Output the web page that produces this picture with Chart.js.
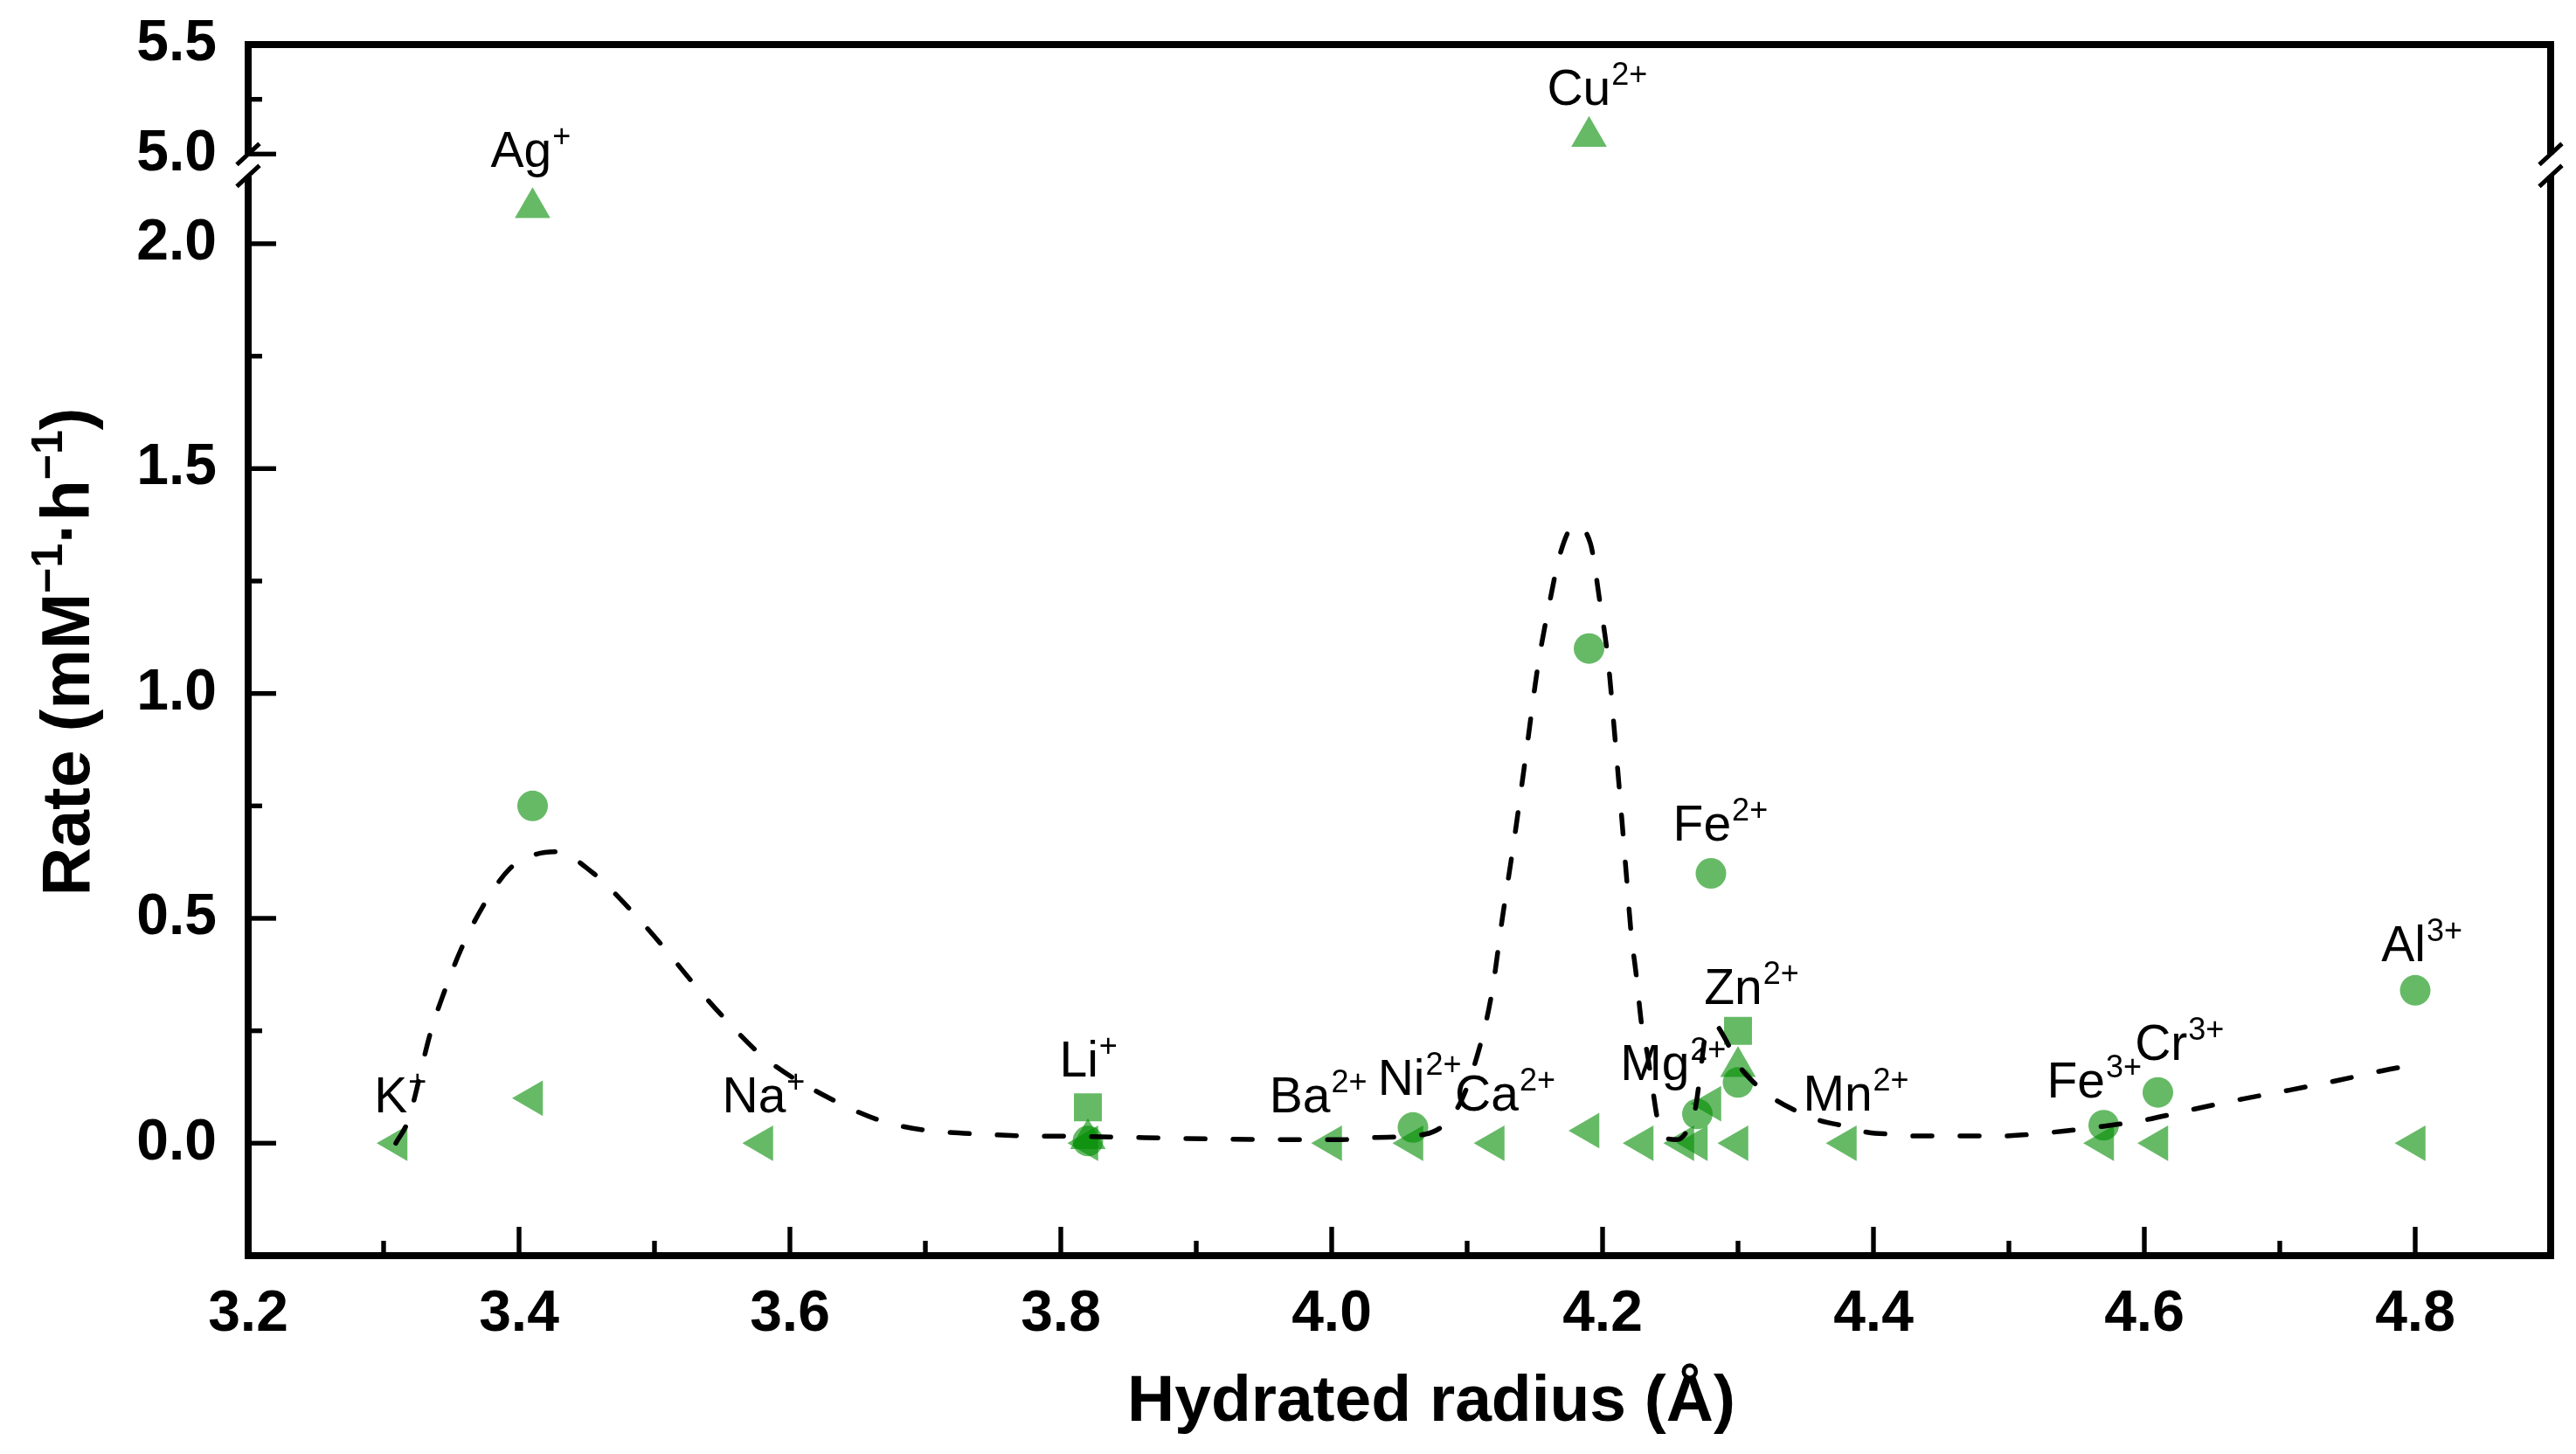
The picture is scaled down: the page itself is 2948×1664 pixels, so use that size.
<!DOCTYPE html>
<html>
<head>
<meta charset="utf-8">
<title>Rate vs hydrated radius</title>
<script src="https://cdn.jsdelivr.net/npm/chart.js@4.4.1/dist/chart.umd.min.js"></script>
<style>
  html, body { margin: 0; padding: 0; background: #fff; }
  #wrap { width: 2948px; height: 1664px; position: relative; }
</style>
</head>
<body>
<div id="wrap"><canvas id="chart"></canvas></div>
<script>
// Axis ticks
const xTicks = [3.2, 3.4, 3.6, 3.8, 4.0, 4.2, 4.4, 4.6, 4.8];
const xMinorTicks = [3.3, 3.5, 3.7, 3.9, 4.1, 4.3, 4.5, 4.7];
const yTicks = [0.0, 0.5, 1.0, 1.5, 2.0];
const yMinorTicks = [0.25, 0.75, 1.25, 1.75];
const yTopTicks = [5.0, 5.5];
const yTopMinorTicks = [5.25];

// Filled circles
const circleX = [3.41, 3.82, 4.06, 4.19, 4.27, 4.28, 4.30, 4.57, 4.61, 4.80];
const circleY = [0.75, 0.005, 0.035, 1.10, 0.065, 0.60, 0.135, 0.04, 0.113, 0.34];

// Filled squares
const squareX = [3.82, 4.30];
const squareY = [0.08, 0.25];

// Up triangles (lower segment) and the one above the axis break
const upX = [3.41, 3.82, 4.30];
const upY = [2.08, 0.01, 0.17];
const upTopX = [4.19];
const upTopY = [5.08];

// Left-pointing triangles
const leftX = [3.31, 3.41, 3.58, 3.82, 4.00, 4.06, 4.12, 4.19, 4.23, 4.26, 4.27, 4.28, 4.30, 4.38, 4.57, 4.61, 4.80];
const leftY = [0, 0.10, 0, 0, 0, 0, 0, 0.028, 0, 0, 0, 0.088, 0, 0, 0, 0, 0];

// Dashed guide curve
const curveX = [3.309, 3.318, 3.335, 3.344, 3.357, 3.373, 3.393, 3.41, 3.427, 3.455, 3.481, 3.505, 3.528, 3.551, 3.58, 3.623, 3.674, 3.749, 3.818, 3.922, 4.008, 4.034, 4.069, 4.093, 4.106, 4.118, 4.126, 4.135, 4.144, 4.152, 4.161, 4.169, 4.179, 4.191, 4.198, 4.204, 4.209, 4.214, 4.218, 4.221, 4.225, 4.229, 4.233, 4.237, 4.241, 4.248, 4.255, 4.261, 4.268, 4.272, 4.276, 4.283, 4.29, 4.30, 4.313, 4.327, 4.345, 4.361, 4.379, 4.396, 4.415, 4.431, 4.46, 4.493, 4.531, 4.568, 4.601, 4.637, 4.672, 4.707, 4.742, 4.777, 4.80];
const curveY = [0.0, 0.05, 0.25, 0.33, 0.43, 0.525, 0.61, 0.64, 0.648, 0.60, 0.523, 0.442, 0.358, 0.28, 0.193, 0.11, 0.044, 0.019, 0.015, 0.009, 0.008, 0.013, 0.02, 0.079, 0.18, 0.33, 0.50, 0.68, 0.877, 1.056, 1.204, 1.314, 1.373, 1.334, 1.204, 1.076, 0.907, 0.729, 0.58, 0.47, 0.37, 0.26, 0.20, 0.12, 0.047, 0.01, 0.008, 0.021, 0.069, 0.15, 0.24, 0.263, 0.235, 0.176, 0.131, 0.098, 0.069, 0.05, 0.038, 0.024, 0.02, 0.016, 0.016, 0.016, 0.024, 0.037, 0.052, 0.076, 0.098, 0.118, 0.139, 0.162, 0.175];

// Ion labels: element, charge, left x and baseline y in data units
const labelBase = ['Ag', 'Cu', 'K', 'Na', 'Li', 'Ba', 'Ni', 'Ca', 'Mg', 'Zn', 'Mn', 'Fe', 'Fe', 'Cr', 'Al'];
const labelSup = ['+', '2+', '+', '+', '+', '2+', '2+', '2+', '2+', '2+', '2+', '2+', '3+', '3+', '3+'];
const labelX = [3.379, 4.159, 3.293, 3.550, 3.799, 3.954, 4.034, 4.091, 4.213, 4.275, 4.348, 4.252, 4.528, 4.593, 4.775];
const labelY = [2.170, 5.225, 0.068, 0.068, 0.149, 0.068, 0.108, 0.073, 0.141, 0.31, 0.073, 0.672, 0.102, 0.186, 0.405];
const labelAxis = ['y', 'yTop', 'y', 'y', 'y', 'y', 'y', 'y', 'y', 'y', 'y', 'y', 'y', 'y', 'y'];

const FONT = "'Liberation Sans', Arial, sans-serif";
const MARKER = 'rgba(0, 140, 0, 0.6)';

// lower / upper segment ranges of the broken y axis
const yMin = -0.25, yMax = 2.175;
const yTopMin = 4.95, yTopMax = 5.5;
const topScaleRatio = 0.487;

function pts(xs, ys) {
    return xs.map((x, i) => ({ x: x, y: ys[i] }));
}

function line(ctx, x1, y1, x2, y2) {
    ctx.beginPath();
    ctx.moveTo(x1, y1);
    ctx.lineTo(x2, y2);
    ctx.stroke();
}

const tickFont = { family: FONT, size: 66, weight: 'bold' };

function fixedTicks(values) {
    return scale => { scale.ticks = values.map(v => ({ value: v })); };
}

// keep the plot box where the figure has it: no label overhang padding
function fitY(s) {
    s.width = 284;
    s.paddingTop = 0;
    s.paddingBottom = 0;
}

// Frame, inward ticks, axis break and ion labels
const framePlugin = {
    id: 'frame',
    afterDatasetsDraw(chart) {
        const { ctx, chartArea: a, scales } = chart;
        const sx = scales.x, sy = scales.y, st = scales.yTop;
        ctx.save();
        ctx.strokeStyle = '#000';
        ctx.lineCap = 'butt';

        ctx.lineWidth = 8;
        ctx.strokeRect(a.left, a.top, a.right - a.left, a.bottom - a.top);

        // break on both vertical spines
        const gy = st.bottom;
        [a.left, a.right].forEach(bx => {
            ctx.fillStyle = '#fff';
            ctx.fillRect(bx - 7, gy - 12.5, 14, 25);
            ctx.lineWidth = 5;
            [gy - 12.5, gy + 12.5].forEach(cy => line(ctx, bx - 13, cy + 12, bx + 13, cy - 12));
        });

        ctx.lineWidth = 5.4;
        xTicks.forEach(v => { const p = sx.getPixelForValue(v); line(ctx, p, a.bottom, p, a.bottom - 33); });
        xMinorTicks.forEach(v => { const p = sx.getPixelForValue(v); line(ctx, p, a.bottom, p, a.bottom - 17); });
        yTicks.forEach(v => { const p = sy.getPixelForValue(v); line(ctx, a.left, p, a.left + 32, p); });
        yMinorTicks.forEach(v => { const p = sy.getPixelForValue(v); line(ctx, a.left, p, a.left + 16, p); });
        yTopTicks.forEach(v => { const p = st.getPixelForValue(v); if (p > a.top + 2) line(ctx, a.left, p, a.left + 32, p); });
        yTopMinorTicks.forEach(v => { const p = st.getPixelForValue(v); line(ctx, a.left, p, a.left + 16, p); });

        // ion labels with charge superscripts
        ctx.fillStyle = '#000';
        ctx.textAlign = 'left';
        ctx.textBaseline = 'alphabetic';
        labelBase.forEach((b, i) => {
            const px = sx.getPixelForValue(labelX[i]);
            const py = scales[labelAxis[i]].getPixelForValue(labelY[i]);
            ctx.font = `57px ${FONT}`;
            ctx.fillText(b, px, py);
            const w = ctx.measureText(b).width;
            ctx.font = `36px ${FONT}`;
            ctx.fillText(labelSup[i], px + w + 1, py - 23);
        });
        ctx.restore();
    },
    afterDraw(chart) {
        const { ctx, chartArea: a } = chart;
        ctx.save();
        ctx.fillStyle = '#000';
        ctx.textBaseline = 'alphabetic';
        ctx.textAlign = 'left';

        // x title
        ctx.font = `bold 75px ${FONT}`;
        const xt = 'Hydrated radius (Å)';
        const xw = ctx.measureText(xt).width;
        ctx.fillText(xt, a.left + 1354 - xw / 2, a.bottom + 189);

        // y title, rotated, with superscripts
        const parts = [['Rate (mM', false], ['−1', true], ['·h', false], ['−1', true], [')', false]];
        const mainF = `bold 77px ${FONT}`, supF = `bold 50px ${FONT}`;
        let total = 0;
        parts.forEach(p => { ctx.font = p[1] ? supF : mainF; total += ctx.measureText(p[0]).width; });
        ctx.translate(a.left - 182, (a.top + a.bottom) / 2 + 2);
        ctx.rotate(-Math.PI / 2);
        let cx = -total / 2;
        parts.forEach(p => {
            ctx.font = p[1] ? supF : mainF;
            ctx.fillText(p[0], cx, p[1] ? -31 : 0);
            cx += ctx.measureText(p[0]).width;
        });
        ctx.restore();
    }
};

const markerCommon = {
    pointBackgroundColor: MARKER,
    pointBorderWidth: 0,
    pointBorderColor: 'rgba(0,0,0,0)',
    yAxisID: 'y',
    order: 1
};

new Chart(document.getElementById('chart'), {
    type: 'scatter',
    data: {
        datasets: [
            {
                type: 'line', label: 'fit', data: pts(curveX, curveY), yAxisID: 'y',
                borderColor: '#000', borderWidth: 5.5, borderDash: [22, 32], borderCapStyle: 'round',
                cubicInterpolationMode: 'monotone', pointRadius: 0, fill: false, order: 0
            },
            Object.assign({ label: 'circle', data: pts(circleX, circleY), pointStyle: 'circle', pointRadius: 17.5 }, markerCommon),
            Object.assign({ label: 'square', data: pts(squareX, squareY), pointStyle: 'rect', pointRadius: 22.6 }, markerCommon),
            Object.assign({ label: 'up', data: pts(upX, upY), pointStyle: 'triangle', pointRadius: 23.5 }, markerCommon),
            Object.assign({ label: 'left', data: pts(leftX, leftY), pointStyle: 'triangle', pointRotation: -90, pointRadius: 23.5 }, markerCommon),
            Object.assign({}, markerCommon, { label: 'up top', data: pts(upTopX, upTopY), pointStyle: 'triangle', pointRadius: 23.5, yAxisID: 'yTop' })
        ]
    },
    options: {
        responsive: true,
        maintainAspectRatio: false,
        animation: false,
        events: [],
        layout: { padding: { top: 51, right: 29, left: 0, bottom: 0 } },
        plugins: { legend: { display: false }, tooltip: { enabled: false } },
        scales: {
            x: {
                type: 'linear', min: 3.2, max: 4.9,
                afterBuildTicks: fixedTicks(xTicks),
                afterFit: s => { s.height = 227; s.paddingLeft = 0; s.paddingRight = 0; },
                grid: { display: false, drawTicks: false },
                border: { display: false },
                ticks: { padding: 28, autoSkip: false, maxRotation: 0, color: '#000', font: tickFont, callback: v => v.toFixed(1) }
            },
            y: {
                type: 'linear', position: 'left', stack: 'rate', weight: 1,
                stackWeight: yMax - yMin,
                min: yMin, max: yMax,
                afterBuildTicks: fixedTicks(yTicks),
                afterFit: fitY,
                grid: { display: false, drawTicks: false },
                border: { display: false },
                ticks: { padding: 36, autoSkip: false, color: '#000', font: tickFont, callback: v => v.toFixed(1) }
            },
            yTop: {
                type: 'linear', position: 'left', stack: 'rate', weight: 2,
                stackWeight: (yTopMax - yTopMin) * topScaleRatio,
                min: yTopMin, max: yTopMax,
                afterBuildTicks: fixedTicks(yTopTicks),
                afterFit: fitY,
                grid: { display: false, drawTicks: false },
                border: { display: false },
                ticks: { padding: 36, autoSkip: false, color: '#000', font: tickFont, callback: v => v.toFixed(1) }
            }
        }
    },
    plugins: [framePlugin]
});
</script>
</body>
</html>
